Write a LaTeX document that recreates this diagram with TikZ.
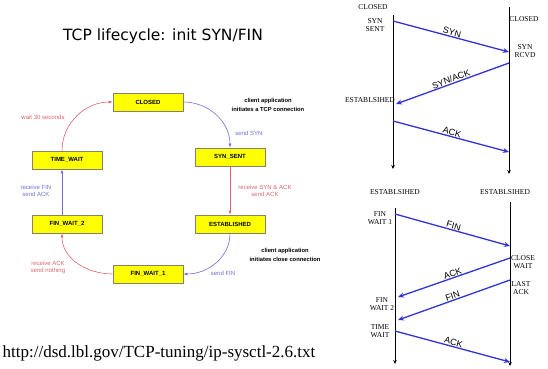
\documentclass[tikz,border=0pt]{standalone}
\usepackage{fontspec}
\setmainfont{Liberation Serif}
\setsansfont{Liberation Sans}
\newfontfamily\titlefont{DejaVu Sans}
\usetikzlibrary{arrows.meta}

\definecolor{boxyellow}{RGB}{255,255,0}
\definecolor{boxgray}{RGB}{130,130,110}
\definecolor{statered}{RGB}{220,100,110}
\definecolor{stateblue}{RGB}{110,110,215}
\definecolor{msgblue}{RGB}{50,50,215}

\tikzset{
  state/.style={draw=boxgray, fill=boxyellow, line width=0.8pt, minimum width=70pt, minimum height=18pt, inner sep=0pt, font=\sffamily\bfseries\fontsize{6}{7}\selectfont},
  redarc/.style={draw=statered, line width=0.6pt, -{Latex[length=4pt,width=3pt]}},
  bluearc/.style={draw=stateblue, line width=0.6pt, -{Latex[length=4pt,width=3pt]}},
  redtxt/.style={text=statered, font=\sffamily\fontsize{6}{7}\selectfont, align=center},
  bluetxt/.style={text=stateblue, font=\sffamily\fontsize{6}{7}\selectfont, align=center},
  notetxt/.style={font=\sffamily\bfseries\fontsize{5.8}{8.5}\selectfont, align=center},
  tag/.style={font=\fontsize{7.5}{8.5}\selectfont, align=center, inner sep=0pt},
  life/.style={draw=black, line width=0.9pt, -{Stealth[length=4pt,width=3.5pt]}},
  msg/.style={draw=msgblue, line width=1.3pt, -{Stealth[length=6pt,width=5pt]}},
  msgtxt/.style={font=\sffamily\fontsize{9}{10}\selectfont, sloped, above, inner sep=0.5pt}
}

\begin{document}
\begin{tikzpicture}[x=1pt,y=-1pt]
        \useasboundingbox (0,0) rectangle (548,368);
        % lifecycle states
        \node (title) at (163,36) {\titlefont\fontsize{15.5}{17}\selectfont TCP lifecycle: init SYN/FIN};
        \node [state] (closed) at (148,102) {CLOSED};
        \node [state] (synsent) at (230,157) {SYN\_SENT};
        \node [state] (estab) at (230,224) {ESTABLISHED};
        \node [state] (finwa) at (148,274) {FIN\_WAIT\_1};
        \node [state] (finwb) at (67,224) {FIN\_WAIT\_2};
        \node [state] (timew) at (67,160) {TIME\_WAIT};
        \draw [redarc] ([xshift=-5pt]timew.north) to [out=90,in=180] (closed.west);
        \node [redtxt] (waittxt) at (43,117) {wait 30 seconds};
        \draw [bluearc] (closed.east) to [out=0,in=90] (synsent.north);
        \node [bluetxt] (sendsyn) at (249,133) {send SYN};
        \node [notetxt] (opennote) at (268,105) {client application\\initiates a TCP connection};
        \draw [redarc] (synsent.south) -- (estab.north);
        \node [redtxt] (rcvsyn) at (265,191) {receive SYN \& ACK\\send ACK};
        \draw [bluearc] (estab.south) to [out=-90,in=0] (finwa.east);
        \node [bluetxt] (sendfin) at (223,273) {send FIN};
        \node [notetxt] (closenote) at (285,255) {client application\\initiates close connection};
        \draw [redarc] (finwa.west) to [out=180,in=-90] ([xshift=-5pt]finwb.south);
        \node [redtxt] (rcvack) at (48,267) {receive ACK\\send nothing};
        \draw [bluearc] ([xshift=-5pt]finwb.north) -- ([xshift=-5pt]timew.south);
        \node [bluetxt] (rcvfin) at (36,191) {receive FIN\\send ACK};
        \node (url) at (159,353) {\fontsize{17}{19}\selectfont http://dsd.lbl.gov/TCP-tuning/ip-sysctl-2.6.txt};
        % open handshake
        \coordinate (la) at (393,15);
        \coordinate (lb) at (393,169);
        \coordinate (ra) at (509,7);
        \coordinate (rb) at (509,174);
        \draw [life] (la) -- (lb);
        \draw [life] (ra) -- (rb);
        \node [tag] (cl) at (373,7) {CLOSED};
        \node [tag] (ss) at (375,25) {SYN\\SENT};
        \node [tag] (cr) at (524,19) {CLOSED};
        \node [tag] (sr) at (525,51) {SYN\\RCVD};
        \node [tag] (el) at (370,100) {ESTABLSIHED};
        \coordinate (s1) at (393,21);
        \coordinate (s2) at (509,52);
        \coordinate (s3) at (509,63);
        \coordinate (s4) at (396,104);
        \coordinate (s5) at (393,121);
        \coordinate (s6) at (509,152);
        \draw [msg] (s1) -- node [msgtxt] {SYN} (s2);
        \draw [msg] (s3) -- node [msgtxt] {SYN/ACK} (s4);
        \draw [msg] (s5) -- node [msgtxt] {ACK} (s6);
        % close handshake
        \coordinate (lc) at (395,208);
        \coordinate (ld) at (395,364);
        \coordinate (rc) at (510,202);
        \coordinate (rd) at (510,366);
        \draw [life] (lc) -- (ld);
        \draw [life] (rc) -- (rd);
        \node [tag] (el2) at (395,192) {ESTABLSIHED};
        \node [tag] (er2) at (505,192) {ESTABLSIHED};
        \node [tag] (fw1) at (380,218) {FIN\\WAIT 1};
        \node [tag] (cw) at (523,262) {CLOSE\\WAIT};
        \node [tag] (lk) at (521,288) {LAST\\ACK};
        \node [tag] (fw2) at (382,304) {FIN\\WAIT 2};
        \node [tag] (tmw) at (380,331) {TIME\\WAIT};
        \coordinate (f1) at (395,214);
        \coordinate (f2) at (510,246);
        \coordinate (f3) at (510,258);
        \coordinate (f4) at (398,297);
        \coordinate (f5) at (510,280);
        \coordinate (f6) at (398,320);
        \coordinate (f7) at (395,331);
        \coordinate (f8) at (510,362);
        \draw [msg] (f1) -- node [msgtxt] {FIN} (f2);
        \draw [msg] (f3) -- node [msgtxt] {ACK} (f4);
        \draw [msg] (f5) -- node [msgtxt] {FIN} (f6);
        \draw [msg] (f7) -- node [msgtxt] {ACK} (f8);
        \end{tikzpicture}
\end{document}
